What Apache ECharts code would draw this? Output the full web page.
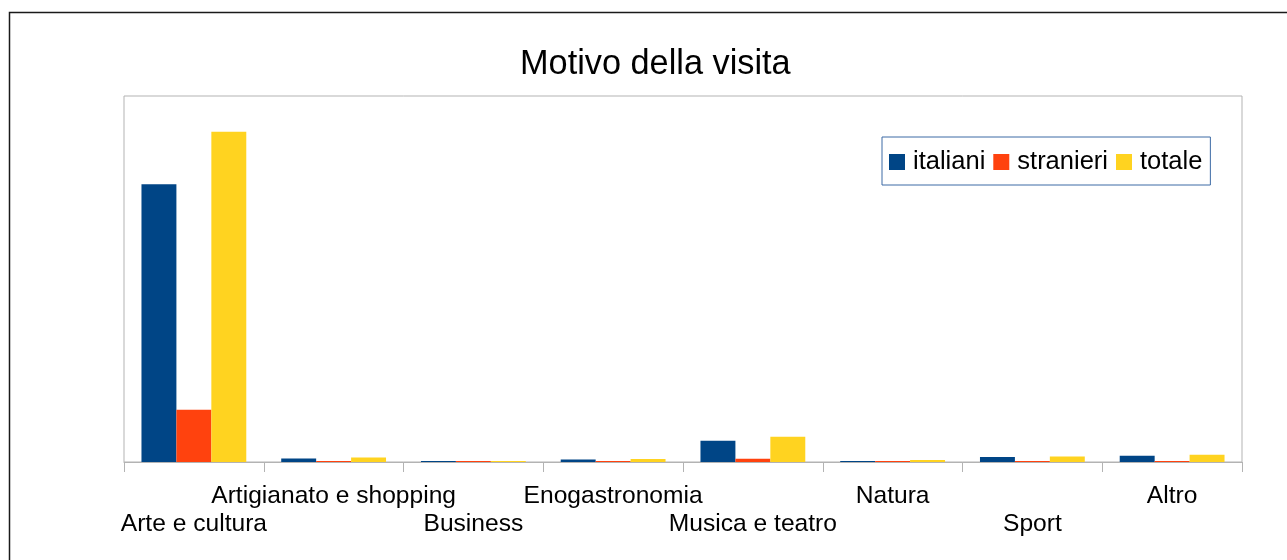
<!DOCTYPE html>
<html>
<head>
<meta charset="utf-8">
<script src="https://cdn.jsdelivr.net/npm/echarts@6/dist/echarts.min.js"></script>
<style>
  html, body { margin: 0; padding: 0; background: #ffffff; }
  #chart { width: 1287px; height: 560px; }
</style>
</head>
<body>
<div id="chart"></div>
<script>
// Motivo della visita — quote per categoria
const categories = ['Arte e cultura', 'Artigianato e shopping', 'Business', 'Enogastronomia',
                    'Musica e teatro', 'Natura', 'Sport', 'Altro'];
const italiani  = [75.9, 0.95, 0.3, 0.7, 5.8, 0.3, 1.4, 1.7];
const stranieri = [14.3, 0.3, 0.3, 0.3, 0.9, 0.3, 0.3, 0.3];
const totale    = [90.2, 1.2, 0.3, 0.8, 6.9, 0.55, 1.5, 2.0];
const seriesNames = ['italiani', 'stranieri', 'totale'];
const colors = ['#004586', '#ff420e', '#ffd320'];

const FONT = '"Liberation Sans", Arial, sans-serif';
const chart = echarts.init(document.getElementById('chart'), null, { renderer: 'canvas' });

chart.setOption({
  backgroundColor: '#ffffff',
  animation: false,
  color: colors,
  title: {
    text: 'Motivo della visita',
    left: 515,
    top: 43,
    textStyle: { fontFamily: FONT, fontSize: 34.3, fontWeight: 'normal', color: '#000000' }
  },
  legend: {
    left: 882,
    top: 137,
    orient: 'horizontal',
    itemWidth: 16,
    itemHeight: 16,
    itemGap: 8,
    padding: [12, 8, 10, 7],
    borderColor: '#3c6aa5',
    borderWidth: 1,
    icon: 'rect',
    data: seriesNames,
    textStyle: { fontFamily: FONT, fontSize: 25.5, color: '#000000', padding: [2, 0, 0, 3] }
  },
  grid: {
    left: 124,
    top: 96,
    right: 45,
    bottom: 98,
    show: true,
    borderColor: '#b3b3b3',
    borderWidth: 1,
    containLabel: false
  },
  xAxis: {
    type: 'category',
    data: categories,
    axisLine: { lineStyle: { color: '#b3b3b3', width: 1 } },
    axisTick: { show: true, length: 10, lineStyle: { color: '#b3b3b3' } },
    axisLabel: {
      interval: 0,
      margin: 20,
      fontFamily: FONT,
      fontSize: 24.6,
      color: '#000000',
      lineHeight: 28,
      formatter: (v, i) => (i % 2 === 0 ? '\n' : '') + v
    }
  },
  yAxis: {
    type: 'value',
    min: 0,
    max: 100,
    show: false,
    splitLine: { show: false }
  },
  series: [
    { name: seriesNames[0], type: 'bar', data: italiani, barGap: '0%', barCategoryGap: '25%' },
    { name: seriesNames[1], type: 'bar', data: stranieri, barGap: '0%', barCategoryGap: '25%' },
    { name: seriesNames[2], type: 'bar', data: totale, barGap: '0%', barCategoryGap: '25%' }
  ],
  graphic: [{
    type: 'rect',
    silent: true,
    shape: { x: 9.5, y: 12.5, width: 1320, height: 620 },
    style: { fill: 'none', stroke: '#1a1a1a', lineWidth: 1.5 }
  }]
});
</script>
</body>
</html>
